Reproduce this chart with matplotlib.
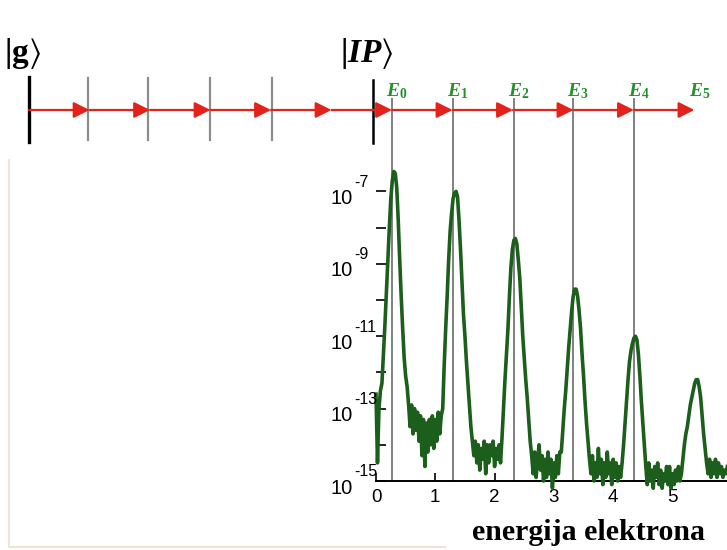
import numpy as np
import matplotlib.pyplot as plt
from matplotlib.lines import Line2D
from matplotlib.transforms import blended_transform_factory, offset_copy

plt.rcParams['mathtext.fontset'] = 'custom'
plt.rcParams['mathtext.rm'] = 'Liberation Serif:bold'
plt.rcParams['mathtext.it'] = 'Liberation Serif:italic:bold'
plt.rcParams['mathtext.bf'] = 'Liberation Serif:bold'
plt.rcParams['mathtext.sf'] = 'Liberation Sans'
plt.rcParams['mathtext.fallback'] = 'stix'

# photoelectron spectrum, log10 of yield, sampled every 0.025 eV
step_ev = 0.025
order0 = [-12.6, -14.5, -13.0, -12.5, -12.3, -11.5, -10.7, -9.8, -8.9, -8.0,
          -7.2, -6.7, -6.45, -6.5, -6.9, -7.8, -8.9, -9.9, -10.8, -11.6,
          -12.1, -12.4, -12.9, -13.5, -12.9, -13.7, -13.0, -13.6, -13.1, -13.9,
          -13.2, -14.3, -13.3, -14.6, -13.4, -14.2, -13.3, -14.0, -13.2, -14.1]
order1 = [-13.3, -13.9, -13.1, -13.7, -13.2, -13.0, -11.8, -10.8, -9.9, -8.9,
          -8.1, -7.6, -7.2, -7.05, -7.0, -7.15, -7.8, -8.6, -9.5, -10.4,
          -11.0, -11.7, -12.3, -12.9, -13.5, -13.9, -14.3, -13.9, -14.5, -14.0,
          -14.7, -14.1, -14.4, -13.9, -14.8, -14.0, -14.5, -14.0, -14.3, -13.9]
order2 = [-14.6, -14.1, -14.4, -14.0, -14.5, -13.8, -13.0, -12.2, -11.5, -10.8,
          -9.9, -9.1, -8.6, -8.35, -8.3, -8.45, -8.9, -9.4, -10.2, -11.0,
          -11.6, -12.2, -12.7, -13.3, -13.9, -14.3, -14.8, -14.2, -14.9, -14.4,
          -14.0, -14.7, -14.3, -15.0, -14.4, -14.9, -14.2, -14.8, -14.4, -15.2]
order3 = [-14.5, -14.9, -14.3, -14.8, -14.2, -14.2, -13.6, -13.0, -12.5, -11.9,
          -11.3, -10.8, -10.3, -9.9, -9.7, -9.7, -9.9, -10.3, -10.8, -11.5,
          -12.1, -12.8, -13.4, -13.9, -14.4, -14.8, -14.3, -15.0, -14.5, -14.9,
          -14.1, -14.8, -14.4, -15.1, -14.5, -14.9, -14.2, -14.8, -14.5, -15.1]
order4 = [-14.4, -14.9, -14.5, -15.0, -14.6, -14.9, -14.5, -14.0, -13.4, -12.8,
          -12.2, -11.7, -11.4, -11.2, -11.05, -11.0, -11.1, -11.5, -12.1, -12.8,
          -13.4, -14.0, -14.6, -15.1, -14.5, -15.0, -14.7, -15.2, -14.6, -14.9,
          -14.5, -15.1, -14.7, -15.2, -14.8, -15.0, -14.6, -15.1, -14.6, -15.2]
order5 = [-14.8, -15.1, -14.7, -15.0, -14.6, -15.0, -14.8, -14.4, -14.0, -13.7,
          -13.5, -13.2, -12.9, -12.7, -12.5, -12.3, -12.2, -12.2, -12.4, -12.7,
          -13.2, -13.7, -14.1, -14.5, -14.8, -14.4, -14.9, -14.5, -14.8, -14.4,
          -14.9, -14.5, -14.8, -14.6, -14.9, -14.7, -14.8, -14.6]

# level scheme (eV, continuum threshold at 0)
ground_ev = -5.85
virtual_ev = [-4.86, -3.84, -2.80, -1.75]
ip_ev = -0.05
photon_ends = [-4.83, -3.81, -2.79, -1.77, -0.75, 0.27, 1.29, 2.31, 3.33, 4.35, 5.37]
ati_ev = [0.27, 1.30, 2.33, 3.32, 4.35]
ati_labels = ['E_0', 'E_1', 'E_2', 'E_3', 'E_4', 'E_5']
ati_label_ev = [0.27, 1.30, 2.33, 3.32, 4.35, 5.37]

decades = list(range(-15, -6))
labelled_decades = [-15, -13, -11, -9, -7]
xticks = [0, 1, 2, 3, 4, 5]

log_yield = np.concatenate([order0, order1, order2, order3, order4, order5])
energy = np.arange(len(log_yield)) * step_ev

W, H = 727, 550
px_per_ev = 59.3
px_per_dec = 36.2
x0_px, y0_px, top_px = 376, 481, 98

fig = plt.figure(figsize=(W / 100, H / 100), dpi=100)
fig.patch.set_facecolor('white')

# spectrum
ax = fig.add_axes([x0_px / W, (H - y0_px) / H, (W - x0_px) / W, (y0_px - top_px) / H])
ax.patch.set_alpha(0)
ax.set_yscale('log')
ax.set_xlim(0, (W - x0_px) / px_per_ev)
ax.set_ylim(1e-15, 10 ** (-15 + (y0_px - top_px) / px_per_dec))

for e in ati_ev:
    ax.axvline(e, color='#5e5e5e', lw=1.1, zorder=1)

ax.plot(energy, 10.0 ** log_yield, color='#1c5e1c', lw=2.6, clip_on=False, zorder=3)

for s in ['left', 'top', 'right']:
    ax.spines[s].set_visible(False)
ax.spines['bottom'].set_linewidth(1.4)

ax.set_xticks(xticks)
ax.set_xticklabels([str(t) for t in xticks], fontsize=13.5, family='Liberation Sans')
ax.tick_params(axis='x', direction='in', length=6, width=1.2, pad=6)

ax.set_yticks([10.0 ** d for d in decades])
ax.set_yticklabels([])
ax.yaxis.set_minor_locator(plt.NullLocator())
ax.tick_params(axis='y', direction='in', length=7, width=1.2)

# decade labels: "10" a little below the tick, exponent raised well above it
ytrans = blended_transform_factory(ax.transAxes, ax.transData)
base_tr = offset_copy(ytrans, fig=fig, x=-23, y=-7, units='dots')
exp_tr = offset_copy(ytrans, fig=fig, x=-22, y=9, units='dots')
for d in labelled_decades:
    ax.text(0, 10.0 ** d, '10', transform=base_tr, ha='right', va='center',
            family='Liberation Sans', fontsize=14.5)
    ax.text(0, 10.0 ** d, '-%d' % abs(d), transform=exp_tr, ha='left', va='center',
            family='Liberation Sans', fontsize=11.5)

# level diagram on top, x in eV, y in pixels from the top
dia = fig.add_axes([0, 0, 1, 1])
dia.patch.set_alpha(0)
dia.set_xlim(-x0_px / px_per_ev, (W - x0_px) / px_per_ev)
dia.set_ylim(H, 0)
dia.axis('off')

arrow_y = 110
dia.plot([ground_ev, ground_ev], [77, 142], color='black', lw=2.4)
for v in virtual_ev:
    dia.plot([v, v], [78, 140], color='#8c8c8c', lw=1.6)
dia.plot([ip_ev, ip_ev], [80, 143], color='black', lw=1.8)

prev = ground_ev
for end in photon_ends:
    dia.annotate('', xy=(end, arrow_y), xytext=(prev, arrow_y),
                 arrowprops=dict(arrowstyle='-|>,head_length=0.8,head_width=0.4',
                                 color='#e3221c', lw=1.6, shrinkA=0, shrinkB=0,
                                 mutation_scale=12))
    prev = end

for e, lab in zip(ati_label_ev, ati_labels):
    dia.text(e - 0.1, 96, '$%s$' % lab, color='#24902c', fontsize=14,
             ha='left', va='baseline')

dia.text(ground_ev - 0.42, 62, r'$|\mathbf{g}\rangle$', fontsize=24,
         ha='left', va='baseline')
dia.text(ip_ev - 0.55, 62, r'$|IP\rangle$', fontsize=24,
         ha='left', va='baseline')

fig.text(588 / W, (H - 540) / H, 'energija elektrona', family='Liberation Serif',
         weight='bold', fontsize=21.5, ha='center', va='baseline')

# faint frame at the lower left
fig.add_artist(Line2D([9 / W, 9 / W, 445 / W], [(H - 160) / H, (H - 547) / H, (H - 547) / H],
                      transform=fig.transFigure, color='#ece6d3', lw=1.5))

fig.savefig('out.png', dpi=100)
